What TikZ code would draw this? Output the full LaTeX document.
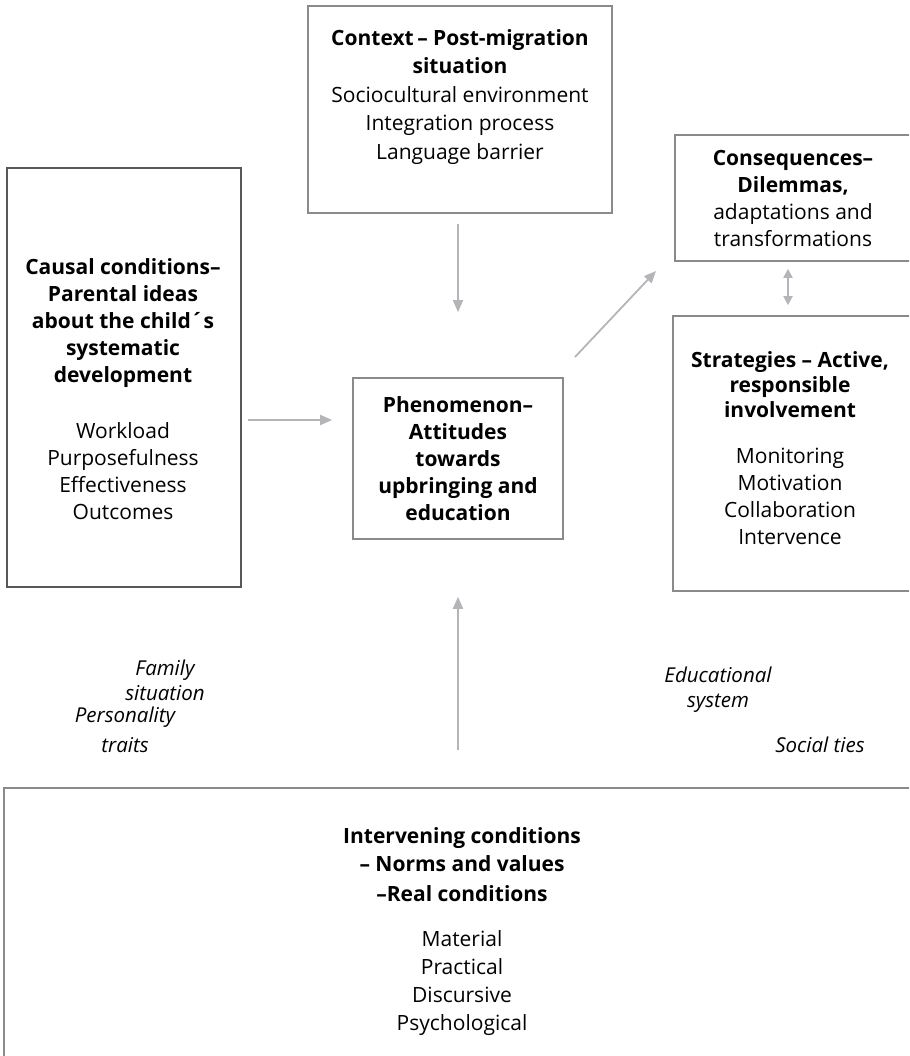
\documentclass[tikz,border=0pt]{standalone}
\usepackage{fontspec}
\setmainfont{Open Sans}
\usetikzlibrary{arrows.meta,positioning}

\definecolor{boxgray}{HTML}{8A8A8C}
\definecolor{framegray}{HTML}{58585A}
\definecolor{arrowgray}{HTML}{B4B5B8}

\tikzset{
  box/.style={draw=boxgray, line width=1.6pt, rectangle, inner sep=0pt},
  flow/.style={draw=arrowgray, line width=1.8pt, -{Triangle[length=12pt,width=10pt]}},
  txt/.style={align=center, inner sep=0pt, font=\fontsize{21}{27}\selectfont},
  side/.style={align=center, inner sep=0pt, font=\fontsize{20.5}{25}\selectfont\itshape}
}

\begin{document}
\begin{tikzpicture}[x=1pt,y=-1pt]
  \clip (0,0) rectangle (909,1056);
  % frames
  \node[box, draw=framegray, minimum width=234pt, minimum height=419pt] (causal) at (124,377.5) {};
  \node[box, minimum width=304pt, minimum height=207pt] (context) at (460,109.5) {};
  \node[box, minimum width=210pt, minimum height=161pt] (phen) at (458,458.5) {};
  \node[box, minimum width=240pt, minimum height=126pt] (cons) at (795,198) {};
  \node[box, minimum width=242pt, minimum height=275pt] (strat) at (794,453.5) {};
  \node[box, minimum width=911pt, minimum height=282pt] (cond) at (459.5,929) {};

  % texts
  \node[txt] (causaltxt) at (123,389) {\textbf{Causal conditions–}\\\textbf{Parental ideas}\\\textbf{about the child´s}\\\textbf{systematic}\\\textbf{development}\\[29pt]
    Workload\\Purposefulness\\Effectiveness\\Outcomes};
  \node[txt, font=\fontsize{21}{28.5}\selectfont] (contexttxt) at (460,97) {\textbf{Context\,– Post-migration}\\\textbf{situation}\\Sociocultural environment\\Integration process\\Language barrier};
  \node[txt] (phentxt) at (458,459) {\textbf{Phenomenon–}\\\textbf{Attitudes}\\\textbf{towards}\\\textbf{upbringing and}\\\textbf{education}};
  \node[txt] (constxt) at (793,198.5) {\textbf{Consequences–}\\\textbf{Dilemmas,}\\adaptations and\\transformations};
  \node[txt] (strattxt) at (790,448.5) {\textbf{Strategies – Active,}\\[-2pt]\textbf{responsible}\\[-2pt]\textbf{involvement}\\[19pt]
    Monitoring\\Motivation\\Collaboration\\Intervence};
  \node[txt, font=\fontsize{21}{28}\selectfont] (condtxt) at (462,932) {\textbf{Intervening conditions}\\\textbf{– Norms and values}\\[2pt]\textbf{–Real conditions}\\[17pt]
    Material\\Practical\\Discursive\\Psychological};

  % side factors
  \node[side] (family) at (165,680) {Family\\situation};
  \node[side] (person) at (125,730) {Personality\\[5pt]traits};
  \node[side] (edu) at (718,690) {Educational\\system};
  \node[side] (social) at (820,745) {Social ties};

  % arrows
  \coordinate (pin) at ([yshift=38.5pt]phen.west);
  \coordinate (dstart) at (575,357);
  \coordinate (dend) at (656,271);
  \draw[flow, shorten <=10pt, shorten >=65pt] (phen.north |- context.south) -- (phen.north);
  \draw[flow, shorten <=6pt, shorten >=20pt] (causal.east |- pin) -- (pin);
  \draw[flow, shorten <=37pt, shorten >=57pt] (phen.south |- cond.north) -- (phen.south);
  \draw[flow] (dstart) -- (dend);
  \draw[flow, {Triangle[length=9pt,width=9pt]}-{Triangle[length=9pt,width=9pt]}, shorten <=7pt, shorten >=10pt]
    ([xshift=-7pt]cons.south) -- ([xshift=-7pt]cons.south |- strat.north);
\end{tikzpicture}
\end{document}
